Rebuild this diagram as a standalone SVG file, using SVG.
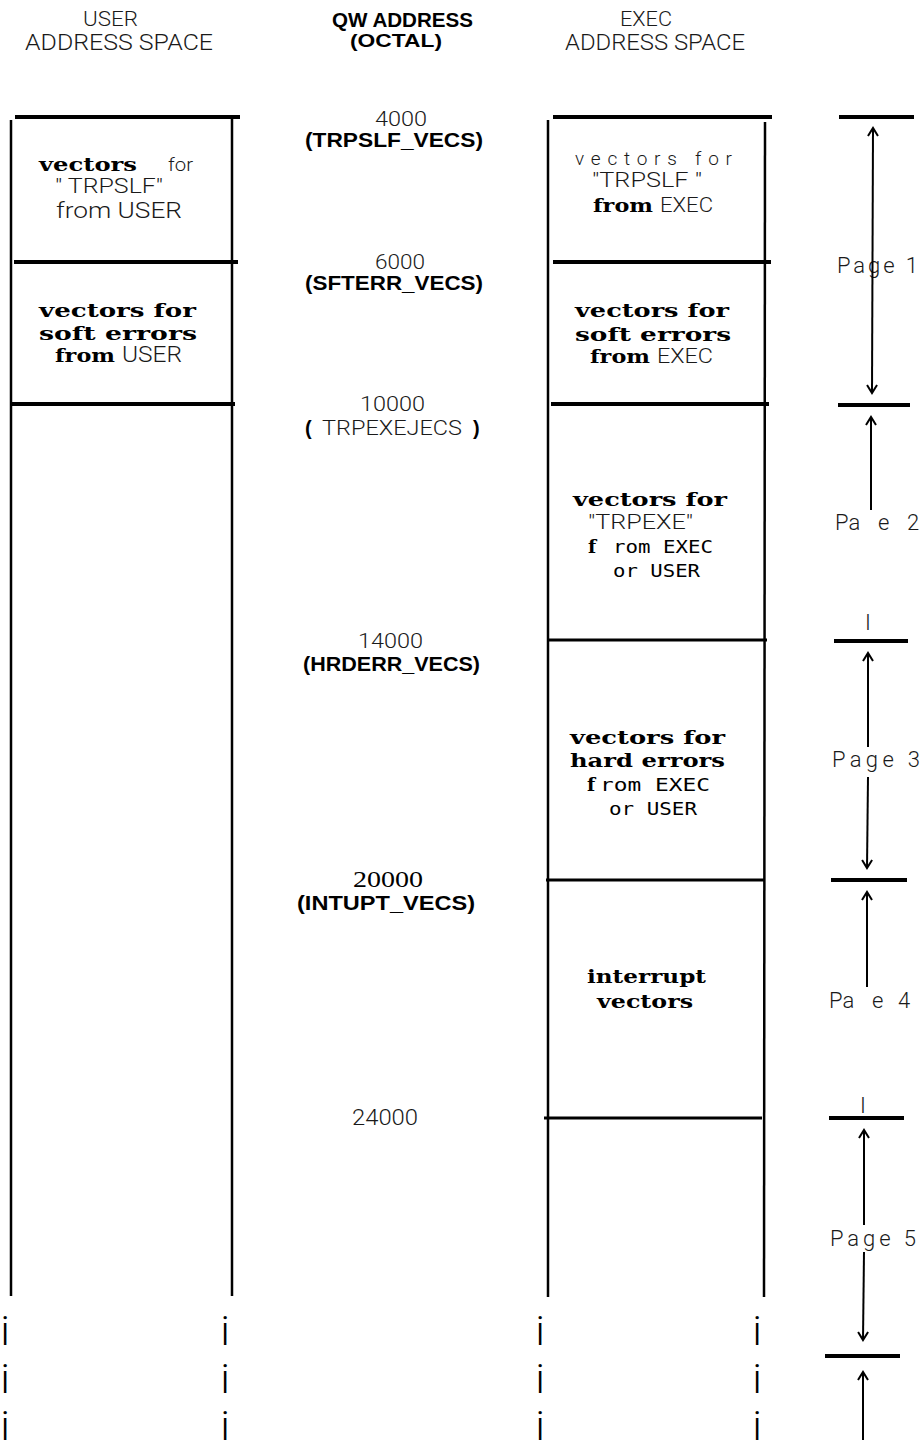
<svg xmlns="http://www.w3.org/2000/svg" width="923" height="1440" viewBox="0 0 923 1440">
<defs>
<style>
.thin{font-family:"Roboto","Liberation Sans",sans-serif;font-weight:300;fill:#1a1a1a}
.plot{font-family:"Liberation Sans",sans-serif;font-weight:bold;fill:#000}
.sb{font-family:"DejaVu Serif","Liberation Serif",serif;font-weight:bold;fill:#000;font-size:19px}
.mono{font-family:"DejaVu Sans Mono","Liberation Mono",monospace;fill:#000;font-size:18px}
.tms{font-family:"Liberation Serif",serif;fill:#000}
.h{stroke:#000;stroke-width:4;fill:none}
.hm{stroke:#000;stroke-width:3;fill:none}
.v{stroke:#000;stroke-width:2.5;fill:none}
.arr{stroke:#000;stroke-width:2;fill:none}
.dots{font-family:"Roboto","Liberation Sans",sans-serif;font-weight:300;font-size:41px;fill:#000}
</style>
<marker id="ah" markerUnits="userSpaceOnUse" markerWidth="14" markerHeight="14" viewBox="-10 -7 12 14" refX="0" refY="0" orient="auto-start-reverse">
<path d="M-8,-5 L0,0 L-8,5" stroke="#000" stroke-width="2" fill="none"/>
</marker>
</defs>
<rect width="923" height="1440" fill="#fff"/>

<g id="headers">
<text class="thin" x="83" y="26" font-size="20" textLength="55" lengthAdjust="spacingAndGlyphs">USER</text>
<text class="thin" x="25" y="50" font-size="22" textLength="188" lengthAdjust="spacingAndGlyphs">ADDRESS SPACE</text>
<text class="plot" x="332" y="27" font-size="20" textLength="141" lengthAdjust="spacingAndGlyphs">QW ADDRESS</text>
<text class="plot" x="350" y="47" font-size="19" textLength="92" lengthAdjust="spacingAndGlyphs">(OCTAL)</text>
<text class="thin" x="620" y="26" font-size="20" textLength="52" lengthAdjust="spacingAndGlyphs">EXEC</text>
<text class="thin" x="565" y="50" font-size="22" textLength="180" lengthAdjust="spacingAndGlyphs">ADDRESS SPACE</text>
</g>

<g id="user-space">
<line class="v" x1="11" y1="120" x2="11" y2="1296" stroke-width="2"/>
<line class="v" x1="232" y1="117" x2="232" y2="1296" stroke-width="3"/>
<line class="h" x1="15" y1="117" x2="240" y2="117"/>
<line class="h" x1="14" y1="262" x2="238" y2="262"/>
<line class="h" x1="12" y1="404" x2="235" y2="404"/>
</g>

<g id="user-trpslf">
<text class="sb" x="39" y="171" textLength="98" lengthAdjust="spacingAndGlyphs">vectors</text>
<text class="thin" x="168" y="171" font-size="19" textLength="25" lengthAdjust="spacingAndGlyphs">for</text>
<text class="thin" x="55" y="193" font-size="20" textLength="108" lengthAdjust="spacingAndGlyphs">" TRPSLF"</text>
<text class="thin" x="56" y="218" font-size="22" textLength="126" lengthAdjust="spacingAndGlyphs">from USER</text>
</g>

<g id="user-sfterr">
<text class="sb" x="39" y="317" textLength="157" lengthAdjust="spacingAndGlyphs">vectors for</text>
<text class="sb" x="39" y="340" textLength="158" lengthAdjust="spacingAndGlyphs">soft errors</text>
<text class="sb" x="55" y="362" textLength="60" lengthAdjust="spacingAndGlyphs">from</text>
<text class="thin" x="122" y="362" font-size="22" textLength="60" lengthAdjust="spacingAndGlyphs">USER</text>
</g>

<g id="addresses">
<text class="thin" x="375" y="126" font-size="21" textLength="52" lengthAdjust="spacingAndGlyphs">4000</text>
<text class="plot" x="305" y="147" font-size="20" textLength="178" lengthAdjust="spacingAndGlyphs">(TRPSLF_VECS)</text>
<text class="thin" x="375" y="269" font-size="21" textLength="50" lengthAdjust="spacingAndGlyphs">6000</text>
<text class="plot" x="305" y="290" font-size="20" textLength="178" lengthAdjust="spacingAndGlyphs">(SFTERR_VECS)</text>
<text class="thin" x="360" y="411" font-size="20" textLength="65" lengthAdjust="spacingAndGlyphs">10000</text>
<text x="305" y="435" font-size="20"><tspan class="plot">(</tspan><tspan class="thin" x="322" font-size="21" textLength="140" lengthAdjust="spacingAndGlyphs">TRPEXEJECS</tspan><tspan class="plot" x="473">)</tspan></text>
<text class="thin" x="358" y="648" font-size="21" textLength="65" lengthAdjust="spacingAndGlyphs">14000</text>
<text class="plot" x="303" y="671" font-size="20" textLength="177" lengthAdjust="spacingAndGlyphs">(HRDERR_VECS)</text>
<text class="tms" x="353" y="887" font-size="24" textLength="70" lengthAdjust="spacingAndGlyphs">20000</text>
<text class="plot" x="297" y="910" font-size="20" textLength="178" lengthAdjust="spacingAndGlyphs">(INTUPT_VECS)</text>
<text class="thin" x="352" y="1125" font-size="22" textLength="66" lengthAdjust="spacingAndGlyphs">24000</text>
</g>

<g id="exec-space">
<line class="v" x1="548" y1="120" x2="548" y2="1297"/>
<line class="v" x1="765" y1="122" x2="764" y2="1297"/>
<line class="h" x1="553" y1="117" x2="772" y2="117"/>
<line class="h" x1="553" y1="262" x2="771" y2="262"/>
<line class="h" x1="551" y1="404" x2="769" y2="404"/>
<line class="hm" x1="548" y1="640" x2="767" y2="640"/>
<line class="hm" x1="546" y1="880" x2="765" y2="880"/>
<line class="hm" x1="544" y1="1118" x2="762" y2="1118"/>
</g>

<g id="exec-trpslf">
<text class="thin" x="575" y="165" font-size="19" textLength="157" lengthAdjust="spacing">vectors for</text>
<text class="thin" x="592" y="187" font-size="21" textLength="110" lengthAdjust="spacingAndGlyphs">"TRPSLF "</text>
<text class="sb" x="593" y="212" textLength="60" lengthAdjust="spacingAndGlyphs">from</text>
<text class="thin" x="660" y="212" font-size="21" textLength="53" lengthAdjust="spacingAndGlyphs">EXEC</text>
</g>

<g id="exec-sfterr">
<text class="sb" x="575" y="317" textLength="154" lengthAdjust="spacingAndGlyphs">vectors for</text>
<text class="sb" x="575" y="341" textLength="156" lengthAdjust="spacingAndGlyphs">soft errors</text>
<text class="sb" x="590" y="363" textLength="60" lengthAdjust="spacingAndGlyphs">from</text>
<text class="thin" x="657" y="363" font-size="21" textLength="56" lengthAdjust="spacingAndGlyphs">EXEC</text>
</g>

<g id="exec-trpexe">
<text class="sb" x="573" y="506" textLength="154" lengthAdjust="spacingAndGlyphs">vectors for</text>
<text class="thin" x="588" y="529" font-size="21" textLength="105" lengthAdjust="spacingAndGlyphs">"TRPEXE"</text>
<text class="sb" x="588" y="553" font-size="20">f</text>
<text class="mono" x="613" y="553" textLength="100" lengthAdjust="spacingAndGlyphs">rom EXEC</text>
<text class="mono" x="613" y="577" textLength="87" lengthAdjust="spacingAndGlyphs">or USER</text>
</g>

<g id="exec-hrderr">
<text class="sb" x="570" y="744" textLength="155" lengthAdjust="spacingAndGlyphs">vectors for</text>
<text class="sb" x="570" y="767" textLength="155" lengthAdjust="spacingAndGlyphs">hard errors</text>
<text class="sb" x="587" y="791" font-size="20">f</text>
<text class="mono" x="600" y="791" textLength="110" lengthAdjust="spacingAndGlyphs">rom EXEC</text>
<text class="mono" x="609" y="815" textLength="88" lengthAdjust="spacingAndGlyphs">or USER</text>
</g>

<g id="exec-intupt">
<text class="sb" x="587" y="983" textLength="119" lengthAdjust="spacingAndGlyphs">interrupt</text>
<text class="sb" x="597" y="1008" textLength="96" lengthAdjust="spacingAndGlyphs">vectors</text>
</g>

<g id="continuation">
<text class="dots" x="5" y="1345" text-anchor="middle">i</text>
<text class="dots" x="225" y="1345" text-anchor="middle">i</text>
<text class="dots" x="540" y="1345" text-anchor="middle">i</text>
<text class="dots" x="757" y="1345" text-anchor="middle">i</text>
<text class="dots" x="5" y="1393" text-anchor="middle">i</text>
<text class="dots" x="225" y="1393" text-anchor="middle">i</text>
<text class="dots" x="540" y="1393" text-anchor="middle">i</text>
<text class="dots" x="757" y="1393" text-anchor="middle">i</text>
<text class="dots" x="5" y="1440" text-anchor="middle">i</text>
<text class="dots" x="225" y="1440" text-anchor="middle">i</text>
<text class="dots" x="540" y="1440" text-anchor="middle">i</text>
<text class="dots" x="757" y="1440" text-anchor="middle">i</text>
</g>

<g id="pages">
<line class="h" x1="839" y1="117" x2="914" y2="117"/>
<line class="h" x1="838" y1="405" x2="910" y2="405"/>
<line class="h" x1="834" y1="641" x2="908" y2="641"/>
<line class="h" x1="831" y1="880" x2="907" y2="880"/>
<line class="h" x1="829" y1="1118" x2="904" y2="1118"/>
<line class="h" x1="825" y1="1356" x2="900" y2="1356"/>
<text class="thin" x="837" y="273" font-size="22" textLength="81" lengthAdjust="spacing">Page 1</text>
<text class="thin" y="530" font-size="22"><tspan x="835">Pa</tspan><tspan x="878">e</tspan><tspan x="907">2</tspan></text>
<text class="thin" x="868" y="630" font-size="22" text-anchor="middle">I</text>
<text class="thin" x="832" y="767" font-size="22" textLength="88" lengthAdjust="spacing">Page 3</text>
<text class="thin" y="1008" font-size="22"><tspan x="829">Pa</tspan><tspan x="872">e</tspan><tspan x="898">4</tspan></text>
<text class="thin" x="863" y="1113" font-size="22" text-anchor="middle">I</text>
<text class="thin" x="830" y="1246" font-size="22" textLength="86" lengthAdjust="spacing">Page 5</text>
</g>

<g id="connectors">
<line class="arr" x1="873" y1="128" x2="872" y2="393" marker-start="url(#ah)" marker-end="url(#ah)"/>
<line class="arr" x1="871" y1="417" x2="871" y2="510" marker-start="url(#ah)"/>
<line class="arr" x1="868" y1="653" x2="868" y2="747" marker-start="url(#ah)"/>
<line class="arr" x1="868" y1="777" x2="867" y2="868" marker-end="url(#ah)"/>
<line class="arr" x1="867" y1="892" x2="867" y2="987" marker-start="url(#ah)"/>
<line class="arr" x1="864" y1="1130" x2="864" y2="1225" marker-start="url(#ah)"/>
<line class="arr" x1="864" y1="1252" x2="863" y2="1340" marker-end="url(#ah)"/>
<line class="arr" x1="863" y1="1372" x2="863" y2="1440" marker-start="url(#ah)"/>
</g>
</svg>
